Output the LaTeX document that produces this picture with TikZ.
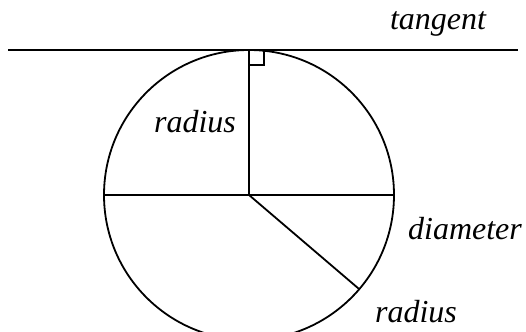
\documentclass[tikz,border=0pt]{standalone}
\usepackage{fontspec}
\setmainfont{Liberation Serif}
\usepackage{tikz}
\usetikzlibrary{calc}

\begin{document}
\begin{tikzpicture}[x=0.5pt,y=0.5pt,line width=0.9pt,every node/.style={inner sep=0pt,font=\fontsize{16}{18}\selectfont\itshape}]
\useasboundingbox (0,0) rectangle (526,332);
\coordinate (O) at (249,137); \coordinate (T) at (249,282);
\coordinate (L) at (104,137); \coordinate (R) at (394,137);
\coordinate (P) at ($(O)+(-40.5:145)$);
\coordinate (tl) at (8,282); \coordinate (tr) at (518,282);
\draw (O) circle (145);
\draw (tl) -- (tr);
\draw (O) -- (T);
\draw (L) -- (R);
\draw (O) -- (P);
\draw (T) ++(0,-15) -| ++(15,15);
\node[anchor=base] (tan) at (438,302) {tangent};
\node[anchor=base] (rad1) at (195,199) {radius};
\node[anchor=base] (dia) at (465,92) {diameter};
\node[anchor=base] (rad2) at (416,9) {radius};
\end{tikzpicture}
\end{document}
